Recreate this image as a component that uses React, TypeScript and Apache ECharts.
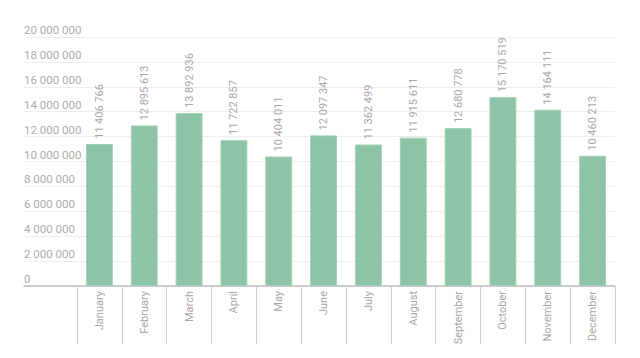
import React, { useEffect, useRef } from "react";
import * as echarts from "echarts";

const categories = ["January","February","March","April","May","June","July","August","September","October","November","December"];
const values = [11406766,12895613,13892936,11722857,10404011,12097347,11362499,11915611,12680778,15170519,14164111,10460213];
const yMax = 20000000;
const yStep = 2000000;

const fmt = (v: number) => String(v).replace(/\B(?=(\d{3})+(?!\d))/g, " ");

export default function App() {
  const ref = useRef<HTMLDivElement>(null);
  useEffect(() => {
    const chart = echarts.init(ref.current!, null, { renderer: "svg" });
    chart.setOption({
      animation: false,
      textStyle: { fontFamily: "Roboto" },
      grid: [
        { left: 24, right: 25, top: 37, bottom: 72 },
        { left: 77, right: 25, top: 37, bottom: 72 },
      ],
      xAxis: [
        {
          gridIndex: 0, type: "value", min: 0, max: 1,
          axisLine: { show: true, lineStyle: { color: "#bdbdbd", width: 1.5 } },
          axisTick: { show: false }, axisLabel: { show: false }, splitLine: { show: false },
        },
        {
          gridIndex: 1, type: "category", data: categories,
          axisLine: { show: false },
          axisTick: { show: true, length: 58, interval: 0, lineStyle: { color: "#cfcfcf", width: 1 } },
          axisLabel: { rotate: 90, interval: 0, color: "#a8a8a8", fontSize: 11, margin: 5, fontFamily: "Roboto" },
        },
      ],
      yAxis: [
        {
          gridIndex: 0, type: "value", min: 0, max: yMax, interval: yStep,
          axisLine: { show: false }, axisTick: { show: false },
          axisLabel: {
            inside: true, margin: 0, verticalAlign: "bottom", color: "#adadad", fontSize: 11.5,
            fontFamily: "Roboto", formatter: (v: number) => fmt(v), padding: [0, 0, 1, 0],
          },
          splitLine: { show: true, lineStyle: { color: "#eeeeee", width: 1 } },
        },
        {
          gridIndex: 1, type: "value", min: 0, max: yMax, interval: yStep, show: false,
          splitLine: { show: false },
        },
      ],
      series: [
        {
          type: "bar", xAxisIndex: 1, yAxisIndex: 1, data: values, barWidth: "60%",
          itemStyle: { color: "#8dc3a7", borderColor: "#a4d1b9", borderWidth: 1 },
          label: {
            show: true, position: "top", rotate: 90, align: "left", verticalAlign: "middle",
            distance: 5, color: "#a8a8a8", fontSize: 11, fontFamily: "Roboto",
            formatter: (p: any) => fmt(p.value),
          },
        },
      ],
    });
    return () => chart.dispose();
  }, []);
  return <div ref={ref} style={{ position: "fixed", left: 0, top: 0, width: 640, height: 358, background: "#fff" }} />;
}
